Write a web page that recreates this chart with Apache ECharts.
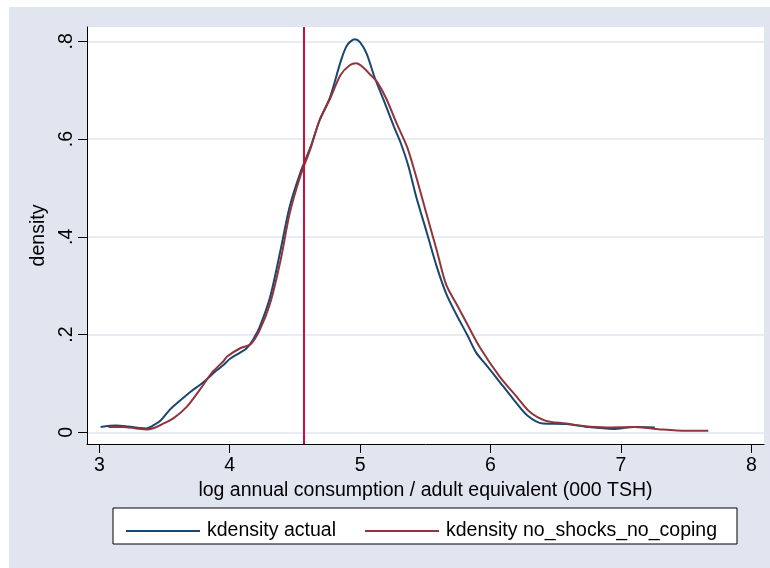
<!DOCTYPE html>
<html>
<head>
<meta charset="utf-8">
<script src="https://cdn.jsdelivr.net/npm/echarts@6/dist/echarts.min.js"></script>
<style>
  html, body { margin: 0; padding: 0; background: #fff; }
  #chart { width: 770px; height: 568px; }
</style>
</head>
<body>
<div id="chart"></div>
<script>
// kdensity actual
const xActual = [3.01, 3.13, 3.22, 3.31, 3.36, 3.42, 3.47, 3.54, 3.62, 3.70, 3.80, 3.90, 3.95, 4.00, 4.08, 4.13, 4.18, 4.23, 4.31, 4.39, 4.46, 4.54, 4.62, 4.69, 4.77, 4.85, 4.90, 4.96, 5.00, 5.05, 5.11, 5.18, 5.26, 5.31, 5.37, 5.43, 5.51, 5.59, 5.66, 5.74, 5.82, 5.89, 5.96, 6.05, 6.18, 6.28, 6.40, 6.58, 6.74, 6.94, 7.10, 7.26];
const yActual = [0.011, 0.014, 0.012, 0.009, 0.008, 0.015, 0.024, 0.046, 0.065, 0.083, 0.103, 0.127, 0.137, 0.150, 0.163, 0.172, 0.190, 0.216, 0.277, 0.373, 0.462, 0.530, 0.584, 0.639, 0.686, 0.758, 0.792, 0.804, 0.798, 0.775, 0.727, 0.680, 0.625, 0.593, 0.545, 0.482, 0.410, 0.337, 0.284, 0.240, 0.200, 0.163, 0.140, 0.110, 0.066, 0.035, 0.018, 0.017, 0.011, 0.007, 0.011, 0.010];

// kdensity no_shocks_no_coping
const xNoShocks = [3.07, 3.18, 3.28, 3.36, 3.42, 3.47, 3.57, 3.67, 3.77, 3.87, 3.95, 3.98, 4.08, 4.16, 4.23, 4.31, 4.39, 4.46, 4.54, 4.62, 4.69, 4.77, 4.85, 4.92, 4.97, 5.03, 5.08, 5.13, 5.20, 5.28, 5.36, 5.43, 5.51, 5.59, 5.66, 5.74, 5.82, 5.92, 6.07, 6.20, 6.30, 6.42, 6.58, 6.71, 6.89, 7.10, 7.30, 7.50, 7.67];
const yNoShocks = [0.011, 0.011, 0.008, 0.006, 0.009, 0.015, 0.029, 0.052, 0.087, 0.124, 0.145, 0.155, 0.172, 0.180, 0.209, 0.264, 0.352, 0.448, 0.523, 0.581, 0.639, 0.683, 0.731, 0.751, 0.755, 0.745, 0.731, 0.717, 0.683, 0.632, 0.584, 0.523, 0.446, 0.370, 0.302, 0.262, 0.222, 0.173, 0.114, 0.073, 0.042, 0.024, 0.018, 0.013, 0.010, 0.011, 0.006, 0.003, 0.003];

const xTicks = [3, 4, 5, 6, 7, 8];
const yTicks = [0, 0.2, 0.4, 0.6, 0.8];
const yTickLabels = ['0', '.2', '.4', '.6', '.8'];
const povertyLine = 4.572;

const seriesNames = ['kdensity actual', 'kdensity no_shocks_no_coping'];
const FONT = '"Liberation Sans", Arial, sans-serif';
const pairs = (xs, ys) => xs.map((x, i) => [x, ys[i]]);

const chart = echarts.init(document.getElementById('chart'), null, { renderer: 'canvas' });

chart.setOption({
  animation: false,
  textStyle: { fontFamily: FONT },
  graphic: [
    { type: 'rect', z: -10, shape: { x: 9, y: 7, width: 761, height: 561 }, style: { fill: '#e0e5f0' } },
    { type: 'rect', z: 5, shape: { x: 113, y: 508, width: 624, height: 36 }, style: { fill: '#fff', stroke: '#000', lineWidth: 1 } }
  ],
  grid: { left: 87, top: 27, right: 6, bottom: 124, show: true, backgroundColor: '#fff', borderWidth: 0 },
  legend: {
    z: 10,
    left: 121, top: 516,
    icon: 'rect', itemWidth: 74, itemHeight: 2, itemGap: 29,
    textStyle: { fontSize: 19.5, color: '#000', fontFamily: FONT, padding: [0, 0, 0, 2] },
    data: seriesNames
  },
  xAxis: {
    type: 'value', min: 2.9057, max: 8.097,
    name: 'log annual consumption / adult equivalent (000 TSH)',
    nameLocation: 'middle', nameGap: 30,
    nameTextStyle: { fontSize: 19.5, color: '#000', fontFamily: FONT },
    axisLine: { show: true, onZero: false, lineStyle: { color: '#000', width: 1 } },
    axisTick: { show: true, length: 9, customValues: xTicks, lineStyle: { color: '#000' } },
    axisLabel: { customValues: xTicks, margin: 12, fontSize: 19.5, color: '#000', fontFamily: FONT },
    splitLine: { show: false }
  },
  yAxis: {
    type: 'value', min: -0.0239, max: 0.8293,
    name: 'density', nameLocation: 'middle', nameGap: 31,
    nameTextStyle: { fontSize: 19.5, color: '#000', fontFamily: FONT },
    axisLine: { show: true, onZero: false, lineStyle: { color: '#000', width: 1 } },
    axisTick: { show: true, length: 9, customValues: yTicks, lineStyle: { color: '#000' } },
    axisLabel: {
      customValues: yTicks, rotate: 90, margin: 10, fontSize: 19.5, color: '#000', fontFamily: FONT,
      formatter: v => yTickLabels[yTicks.findIndex(t => Math.abs(t - v) < 1e-6)] ?? ''
    },
    splitLine: { show: true, lineStyle: { color: '#e0e5f0', width: 1.5 } }
  },
  series: [
    {
      name: seriesNames[0], type: 'line', data: pairs(xActual, yActual),
      smooth: 0.3, showSymbol: false, symbol: 'none',
      itemStyle: { color: '#1a476f' }, lineStyle: { color: '#1a476f', width: 2 },
      markLine: {
        silent: true, symbol: 'none', label: { show: false },
        lineStyle: { color: '#cc0c3a', width: 2, type: 'solid' },
        data: [{ xAxis: povertyLine }]
      }
    },
    {
      name: seriesNames[1], type: 'line', data: pairs(xNoShocks, yNoShocks),
      smooth: 0.3, showSymbol: false, symbol: 'none',
      itemStyle: { color: '#90353b' }, lineStyle: { color: '#90353b', width: 2 }
    }
  ]
});
</script>
</body>
</html>
